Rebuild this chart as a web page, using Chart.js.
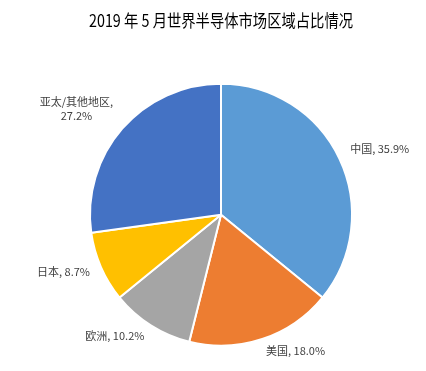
<!DOCTYPE html>
<html>
<head>
<meta charset="utf-8">
<script src="https://cdn.jsdelivr.net/npm/chart.js@4"></script>
<style>
  html, body { margin: 0; padding: 0; background: #fff; }
  #wrap { width: 426px; height: 371px; }
</style>
</head>
<body>
<div id="wrap"><canvas id="graficoPastel" width="426" height="371"></canvas></div>
<script>
// datos
var regiones = ['中国', '美国', '欧洲', '日本', '亚太/其他地区'];
var porcentajes = [35.9, 18.0, 10.2, 8.7, 27.2];
var colores = ['#5B9BD5', '#ED7D31', '#A5A5A5', '#FFC000', '#4472C4'];

// etiquetas fuera del pastel, estilo Excel
var etiquetasFuera = {
    id: 'etiquetasFuera',
    afterDatasetsDraw: function(chart){
        var ctx = chart.ctx;
        var meta = chart.getDatasetMeta(0);
        ctx.save();
        ctx.font = '11px "Noto Sans CJK SC", "Noto Sans", sans-serif';
        ctx.fillStyle = '#404040';
        meta.data.forEach(function(arc, i){
            var mid = (arc.startAngle + arc.endAngle) / 2;
            var r = arc.outerRadius + 12;
            var x = arc.x + Math.cos(mid) * r;
            var y = arc.y + Math.sin(mid) * r;
            var texto = regiones[i] + ', ' + porcentajes[i].toFixed(1) + '%';
            var lineas = regiones[i].length > 3 ? [regiones[i] + ',', porcentajes[i].toFixed(1) + '%'] : [texto];
            var alto = 14;
            var ancho = Math.max.apply(null, lineas.map(function(l){ return ctx.measureText(l).width; }));
            var derecha = Math.cos(mid) >= 0;
            var izq = derecha ? x : x - ancho;
            var top;
            if (Math.sin(mid) < 0) {
                top = y + 2 - alto * lineas.length;
            } else {
                top = y - alto * lineas.length / 2;
            }
            ctx.textBaseline = 'middle';
            ctx.textAlign = 'center';
            lineas.forEach(function(l, k){
                ctx.fillText(l, izq + ancho / 2, top + alto * k + alto / 2);
            });
        });
        ctx.restore();
    }
};

var ctx = document.getElementById('graficoPastel');

new Chart(ctx, {
    type: 'pie',
    data: {
        labels: regiones,
        datasets: [{
            data: porcentajes,
            backgroundColor: colores,
            borderColor: '#ffffff',
            borderWidth: 2,
            hoverOffset: 0
        }]
    },
    options: {
        responsive: false,
        animation: false,
        events: [],
        layout: {
            padding: { left: 89, right: 73, top: 0, bottom: 24 }
        },
        plugins: {
            legend: { display: false },
            tooltip: { enabled: false },
            title: {
                display: true,
                text: '2019 年 5 月世界半导体市场区域占比情况',
                color: '#000000',
                font: { size: 17, weight: 'normal', family: '"Noto Sans CJK SC", sans-serif' },
                padding: { top: 10, bottom: 52 }
            }
        }
    },
    plugins: [etiquetasFuera]
});
</script>
</body>
</html>
